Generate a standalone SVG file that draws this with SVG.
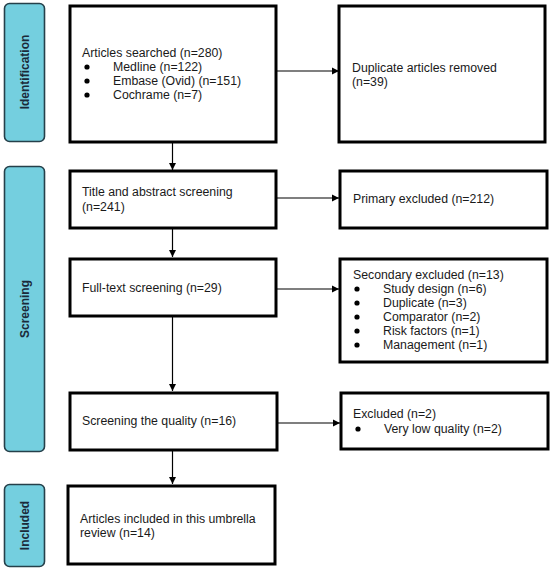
<svg xmlns="http://www.w3.org/2000/svg" width="550" height="572" viewBox="0 0 550 572">
<defs>
<marker id="ah" markerWidth="8" markerHeight="8" refX="7" refY="4" orient="auto" markerUnits="userSpaceOnUse">
<path d="M0,0.5 L7,4 L0,7.5 Z" fill="#000"/>
</marker>
<style>
.box{fill:#fff;stroke:#000;stroke-width:3}
.side{fill:#74CFDF;stroke:#25404a;stroke-width:1.6}
.sidet{font-family:"Liberation Sans",Arial,sans-serif;font-size:12px;font-weight:bold;fill:#1b2a3a;text-anchor:middle}
.t{font-family:"Liberation Sans",Arial,sans-serif;font-size:12.3px;fill:#1a1a1a}
.con{stroke:#000;stroke-width:1.2;fill:none;marker-end:url(#ah)}
</style>
</defs>
<rect width="550" height="572" fill="#fff"/>
<g id="phase-identification">
<rect class="side" x="4.5" y="3.5" width="40" height="138" rx="5"/>
<text class="sidet" transform="translate(29,72) rotate(-90)">Identification</text>
</g>
<g id="phase-screening">
<rect class="side" x="4.5" y="166.5" width="40" height="285" rx="5"/>
<text class="sidet" transform="translate(29,309) rotate(-90)">Screening</text>
</g>
<g id="phase-included">
<rect class="side" x="4.5" y="484.5" width="40" height="82" rx="5"/>
<text class="sidet" transform="translate(29,525.5) rotate(-90)">Included</text>
</g>
<g id="connectors">
<line class="con" x1="276" y1="71" x2="339" y2="71"/>
<line class="con" x1="172.5" y1="142" x2="172.5" y2="170"/>
<line class="con" x1="276" y1="198" x2="339" y2="198"/>
<line class="con" x1="172.5" y1="228" x2="172.5" y2="257"/>
<line class="con" x1="276" y1="289" x2="339" y2="289"/>
<line class="con" x1="172.5" y1="316" x2="172.5" y2="391"/>
<line class="con" x1="277" y1="423" x2="340" y2="423"/>
<line class="con" x1="172.5" y1="450" x2="172.5" y2="484"/>
</g>
<g id="n-searched">
<rect class="box" x="70" y="6" width="206" height="136"/>
<text class="t" x="82" y="57">Articles searched (n=280)</text>
<circle cx="87" cy="67" r="2.6"/><text class="t" x="113" y="71">Medline (n=122)</text>
<circle cx="87" cy="81" r="2.6"/><text class="t" x="113" y="85">Embase (Ovid) (n=151)</text>
<circle cx="87" cy="95" r="2.6"/><text class="t" x="113" y="99">Cochrame (n=7)</text>
</g>
<g id="n-duplicates">
<rect class="box" x="339" y="6" width="206" height="136"/>
<text class="t" x="352" y="72">Duplicate articles removed</text>
<text class="t" x="352" y="86">(n=39)</text>
</g>
<g id="n-title">
<rect class="box" x="70" y="171" width="206" height="57"/>
<text class="t" x="82" y="196">Title and abstract screening</text>
<text class="t" x="82" y="211">(n=241)</text>
</g>
<g id="n-primary">
<rect class="box" x="340" y="171" width="207" height="57"/>
<text class="t" x="353" y="203">Primary excluded (n=212)</text>
</g>
<g id="n-fulltext">
<rect class="box" x="70" y="259" width="206" height="57"/>
<text class="t" x="82" y="292">Full-text screening (n=29)</text>
</g>
<g id="n-secondary">
<rect class="box" x="340" y="259" width="207" height="103"/>
<text class="t" x="353" y="279">Secondary excluded (n=13)</text>
<circle cx="357" cy="289" r="2.6"/><text class="t" x="383" y="293">Study design (n=6)</text>
<circle cx="357" cy="303" r="2.6"/><text class="t" x="383" y="307">Duplicate (n=3)</text>
<circle cx="357" cy="317" r="2.6"/><text class="t" x="383" y="321">Comparator (n=2)</text>
<circle cx="357" cy="331" r="2.6"/><text class="t" x="383" y="335">Risk factors (n=1)</text>
<circle cx="357" cy="345" r="2.6"/><text class="t" x="383" y="349">Management (n=1)</text>
</g>
<g id="n-quality">
<rect class="box" x="70" y="393" width="207" height="57"/>
<text class="t" x="82" y="425">Screening the quality (n=16)</text>
</g>
<g id="n-excluded">
<rect class="box" x="341" y="393" width="207" height="56"/>
<text class="t" x="353" y="418">Excluded (n=2)</text>
<circle cx="358" cy="429" r="2.6"/><text class="t" x="384" y="433">Very low quality (n=2)</text>
</g>
<g id="n-included">
<rect class="box" x="68" y="486" width="207" height="78"/>
<text class="t" x="80" y="523">Articles included in this umbrella</text>
<text class="t" x="80" y="537">review (n=14)</text>
</g>
</svg>
